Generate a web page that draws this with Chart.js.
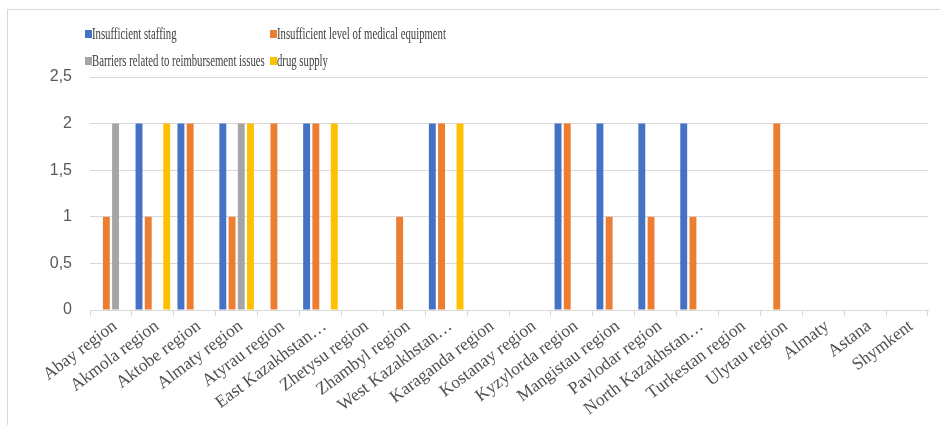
<!DOCTYPE html>
<html>
<head>
<meta charset="utf-8">
<script src="https://cdn.jsdelivr.net/npm/chart.js@4"></script>
<style>
  html, body { margin: 0; padding: 0; background: #fff; }
  #wrap { position: relative; width: 940px; height: 425px; }
  #frame { position: absolute; left: 7px; top: 9px; right: 0; bottom: 0;
           border-top: 1px solid #d9d9d9; border-left: 1px solid #d9d9d9; }
  canvas { position: absolute; left: 0; top: 0; }
  .leg { position: absolute; height: 18px; white-space: nowrap;
         font: 16.5px "Liberation Serif", serif; color: #404040; }
  .leg i { position: absolute; left: 0; top: 5px; width: 7px; height: 8px; }
  .leg span { position: absolute; left: 7px; top: 0; line-height: 18px;
              transform: scaleX(0.65); transform-origin: left center; }
</style>
</head>
<body>
<div id="wrap">
  <div id="frame"></div>
  <canvas id="chart" width="940" height="425"></canvas>
  <div id="legend"></div>
</div>
<script>
// regions (last three are cities)
const categories = ['Abay region', 'Akmola region', 'Aktobe region', 'Almaty region', 'Atyrau region',
  'East Kazakhstan…', 'Zhetysu region', 'Zhambyl region', 'West Kazakhstan…', 'Karaganda region',
  'Kostanay region', 'Kyzylorda region', 'Mangistau region', 'Pavlodar region', 'North Kazakhstan…',
  'Turkestan region', 'Ulytau region', 'Almaty', 'Astana', 'Shymkent'];

const seriesNames = ['Insufficient staffing', 'Insufficient level of medical equipment',
  'Barriers related to reimbursement issues', 'drug supply'];
const seriesColors = ['#4472C4', '#ED7D31', '#A5A5A5', '#FFC000'];

const staffing      = [0, 2, 2, 2, 0, 2, 0, 0, 2, 0, 0, 2, 2, 2, 2, 0, 0, 0, 0, 0];
const equipment     = [1, 1, 2, 1, 2, 2, 0, 1, 2, 0, 0, 2, 1, 1, 1, 0, 2, 0, 0, 0];
const reimbursement = [2, 0, 0, 2, 0, 0, 0, 0, 0, 0, 0, 0, 0, 0, 0, 0, 0, 0, 0, 0];
const drugSupply    = [0, 2, 0, 2, 0, 2, 0, 0, 2, 0, 0, 0, 0, 0, 0, 0, 0, 0, 0, 0];

const yTicks = [0, 0.5, 1, 1.5, 2, 2.5];

const allValues = [staffing, equipment, reimbursement, drugSupply];

// html legend, two columns like the original
const legendPos = [[85, 25], [270, 25], [85, 52], [270, 52]];
const legendBox = document.getElementById('legend');
seriesNames.forEach((name, i) => {
  const d = document.createElement('div');
  d.className = 'leg';
  d.style.left = legendPos[i][0] + 'px';
  d.style.top = legendPos[i][1] + 'px';
  d.innerHTML = '<i style="background:' + seriesColors[i] + '"></i><span></span>';
  d.querySelector('span').textContent = name;
  legendBox.appendChild(d);
});

new Chart(document.getElementById('chart'), {
  type: 'bar',
  data: {
    labels: categories,
    datasets: seriesNames.map((name, i) => ({
      label: name,
      data: allValues[i],
      backgroundColor: seriesColors[i],
      categoryPercentage: 0.88,
      barPercentage: 0.75
    }))
  },
  options: {
    responsive: false,
    animation: false,
    layout: { padding: { top: 77, right: 12, left: 0, bottom: 0 } },
    plugins: { legend: { display: false }, tooltip: { enabled: false } },
    scales: {
      x: {
        grid: { offset: true, drawOnChartArea: false, drawTicks: true, tickLength: 6, color: '#d9d9d9' },
        border: { color: '#d9d9d9' },
        ticks: {
          autoSkip: false,
          minRotation: 37,
          maxRotation: 37,
          padding: 0,
          labelOffset: 4,
          color: '#505050',
          font: { family: 'Liberation Serif', size: 17.5 }
        },
        afterFit: s => { s.height = 115; }
      },
      y: {
        min: 0,
        max: 2.5,
        afterBuildTicks: s => { s.ticks = yTicks.map(v => ({ value: v })); },
        grid: { color: '#d9d9d9', drawTicks: false },
        border: { display: false },
        ticks: {
          padding: 18,
          color: '#595959',
          font: { family: 'Liberation Sans', size: 16 },
          callback: v => String(v).replace('.', ',')
        },
        afterFit: s => { s.width = 90; }
      }
    }
  }
});
</script>
</body>
</html>
